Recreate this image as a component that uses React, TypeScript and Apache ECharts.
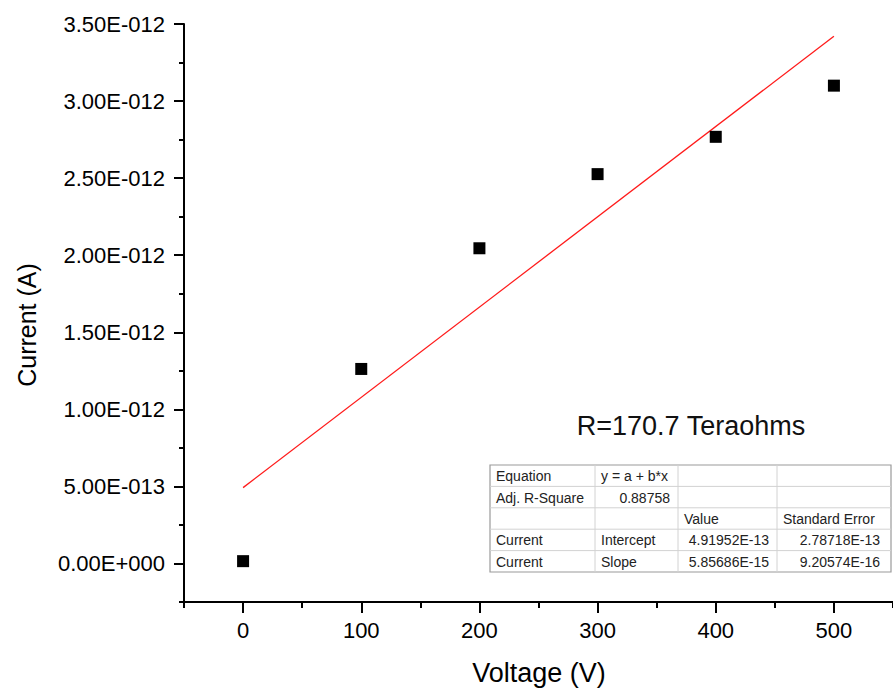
import React, { useEffect, useRef } from "react";
import * as echarts from "echarts";

// ---- data ----
const voltages = [0, 100, 200, 300, 400, 500];
const currents = [1.5e-14, 1.262e-12, 2.045e-12, 2.526e-12, 2.768e-12, 3.1e-12];
const fitIntercept = 4.91952e-13;
const fitSlope = 5.85686e-15;
const fitRange = [0, 500];
const xTickValues = [0, 100, 200, 300, 400, 500];
const yTickValues = [0, 5e-13, 1e-12, 1.5e-12, 2e-12, 2.5e-12, 3e-12, 3.5e-12];
const xAxisTitle = "Voltage (V)";
const yAxisTitle = "Current (A)";
const annotation = "R=170.7 Teraohms";
const tableRows = [
  ["Equation", "y = a + b*x", "", ""],
  ["Adj. R-Square", "0.88758", "", ""],
  ["", "", "Value", "Standard Error"],
  ["Current", "Intercept", "4.91952E-13", "2.78718E-13"],
  ["Current", "Slope", "5.85686E-15", "9.20574E-16"],
];

const FONT = "'Liberation Sans', Arial, Helvetica, sans-serif";

function sci(v: number): string {
  if (Math.abs(v) < 1e-20) return "0.00E+000";
  let e = Math.floor(Math.log10(Math.abs(v)));
  let m = v / Math.pow(10, e);
  if (Math.abs(m) >= 9.995) {
    m /= 10;
    e += 1;
  }
  if (Math.abs(m) < 1) {
    m *= 10;
    e -= 1;
  }
  const sign = e < 0 ? "-" : "+";
  return m.toFixed(2) + "E" + sign + String(Math.abs(e)).padStart(3, "0");
}

function buildTable(): any[] {
  const left = 490;
  const top = 465;
  const colEdges = [490, 595, 678, 777, 891];
  const rowH = 21.4;
  const nRows = tableRows.length;
  const bottom = top + rowH * nRows;
  const els: any[] = [];
  els.push({
    type: "rect",
    shape: { x: left, y: top, width: colEdges[colEdges.length - 1] - left, height: bottom - top },
    style: { fill: "#fff", stroke: "#9a9a9a", lineWidth: 1.2 },
    z: 10,
  });
  for (let i = 1; i < nRows; i++) {
    const y = top + rowH * i;
    els.push({
      type: "line",
      shape: { x1: left, y1: y, x2: colEdges[colEdges.length - 1], y2: y },
      style: { stroke: "#d2d2d2", lineWidth: 1 },
      z: 11,
    });
  }
  for (let j = 1; j < colEdges.length - 1; j++) {
    els.push({
      type: "line",
      shape: { x1: colEdges[j], y1: top, x2: colEdges[j], y2: bottom },
      style: { stroke: "#d2d2d2", lineWidth: 1 },
      z: 11,
    });
  }
  tableRows.forEach((row, i) => {
    row.forEach((cell, j) => {
      if (!cell) return;
      const numeric = /^[0-9.E+\-]+$/.test(cell);
      const x = numeric ? colEdges[j + 1] - (j === 3 ? 11 : 8) : colEdges[j] + 6;
      els.push({
        type: "text",
        x,
        y: top + rowH * i + rowH / 2 + 0.5,
        style: {
          text: cell,
          fill: "#222",
          font: `14px ${FONT}`,
          align: numeric ? "right" : "left",
          verticalAlign: "middle",
        },
        z: 12,
      });
    });
  });
  return els;
}

export default function App() {
  const ref = useRef<HTMLDivElement>(null);
  useEffect(() => {
    if (!ref.current) return;
    const chart = echarts.init(ref.current, null, { renderer: "svg" });
    const fitData = fitRange.map((x) => [x, fitIntercept + fitSlope * x]);
    const axisLine = { show: true, onZero: false, lineStyle: { color: "#000", width: 2 } };
    const option: any = {
      animation: false,
      backgroundColor: "#fff",
      grid: { left: 184, right: -2, top: 24, bottom: 86, containLabel: false },
      xAxis: [
        {
          type: "value",
          min: -50,
          max: 550,
          interval: 50,
          position: "bottom",
          axisLine,
          axisTick: { show: true, length: 6, lineStyle: { color: "#000", width: 2 } },
          axisLabel: {
            customValues: xTickValues,
            formatter: (v: number) => (Math.round(v) % 100 === 0 ? String(Math.round(v)) : ""),
            margin: 17,
            fontSize: 22,
            color: "#000",
            fontFamily: FONT,
          },
          splitLine: { show: false },
        },
        {
          type: "value",
          min: -50,
          max: 550,
          position: "bottom",
          offset: 0,
          axisLine: { show: false, onZero: false },
          axisTick: { show: true, customValues: xTickValues, length: 11, lineStyle: { color: "#000", width: 2 } },
          axisLabel: { show: false },
          splitLine: { show: false },
        },
      ],
      yAxis: [
        {
          type: "value",
          min: -2.5e-13,
          max: 3.5e-12,
          interval: 2.5e-13,
          position: "left",
          axisLine,
          axisTick: { show: true, length: 5, lineStyle: { color: "#000", width: 2 } },
          axisLabel: {
            customValues: yTickValues,
            formatter: (v: number) => {
              const k = v / 5e-13;
              return Math.abs(k - Math.round(k)) < 1e-6 ? sci(v) : "";
            },
            margin: 19,
            fontSize: 22,
            color: "#000",
            fontFamily: FONT,
          },
          splitLine: { show: false },
        },
        {
          type: "value",
          min: -2.5e-13,
          max: 3.5e-12,
          position: "left",
          offset: 0,
          axisLine: { show: false, onZero: false },
          axisTick: { show: true, customValues: yTickValues, length: 10, lineStyle: { color: "#000", width: 2 } },
          axisLabel: { show: false },
          splitLine: { show: false },
        },
      ],
      series: [
        {
          type: "line",
          name: "fit",
          data: fitData,
          showSymbol: false,
          symbol: "none",
          lineStyle: { color: "#ff1a1a", width: 1.3 },
          z: 2,
        },
        {
          type: "scatter",
          name: "Current",
          data: voltages.map((v, i) => [v, currents[i]]),
          symbol: "rect",
          symbolSize: 12,
          itemStyle: { color: "#000", opacity: 1 },
          z: 3,
        },
      ],
      graphic: [
        {
          type: "text",
          x: 539,
          y: 673,
          style: {
            text: xAxisTitle,
            font: `27px ${FONT}`,
            fill: "#000",
            align: "center",
            verticalAlign: "middle",
          },
        },
        {
          type: "text",
          x: 27,
          y: 325,
          rotation: Math.PI / 2,
          style: {
            text: yAxisTitle,
            font: `25px ${FONT}`,
            fill: "#000",
            align: "center",
            verticalAlign: "middle",
          },
        },
        {
          type: "text",
          x: 691,
          y: 426,
          style: {
            text: annotation,
            font: `27px ${FONT}`,
            fill: "#111",
            align: "center",
            verticalAlign: "middle",
          },
        },
        ...buildTable(),
      ],
    };
    chart.setOption(option);
    return () => chart.dispose();
  }, []);
  return (
    <div
      ref={ref}
      style={{ position: "absolute", left: 0, top: 0, width: 893, height: 688, background: "#fff" }}
    />
  );
}
